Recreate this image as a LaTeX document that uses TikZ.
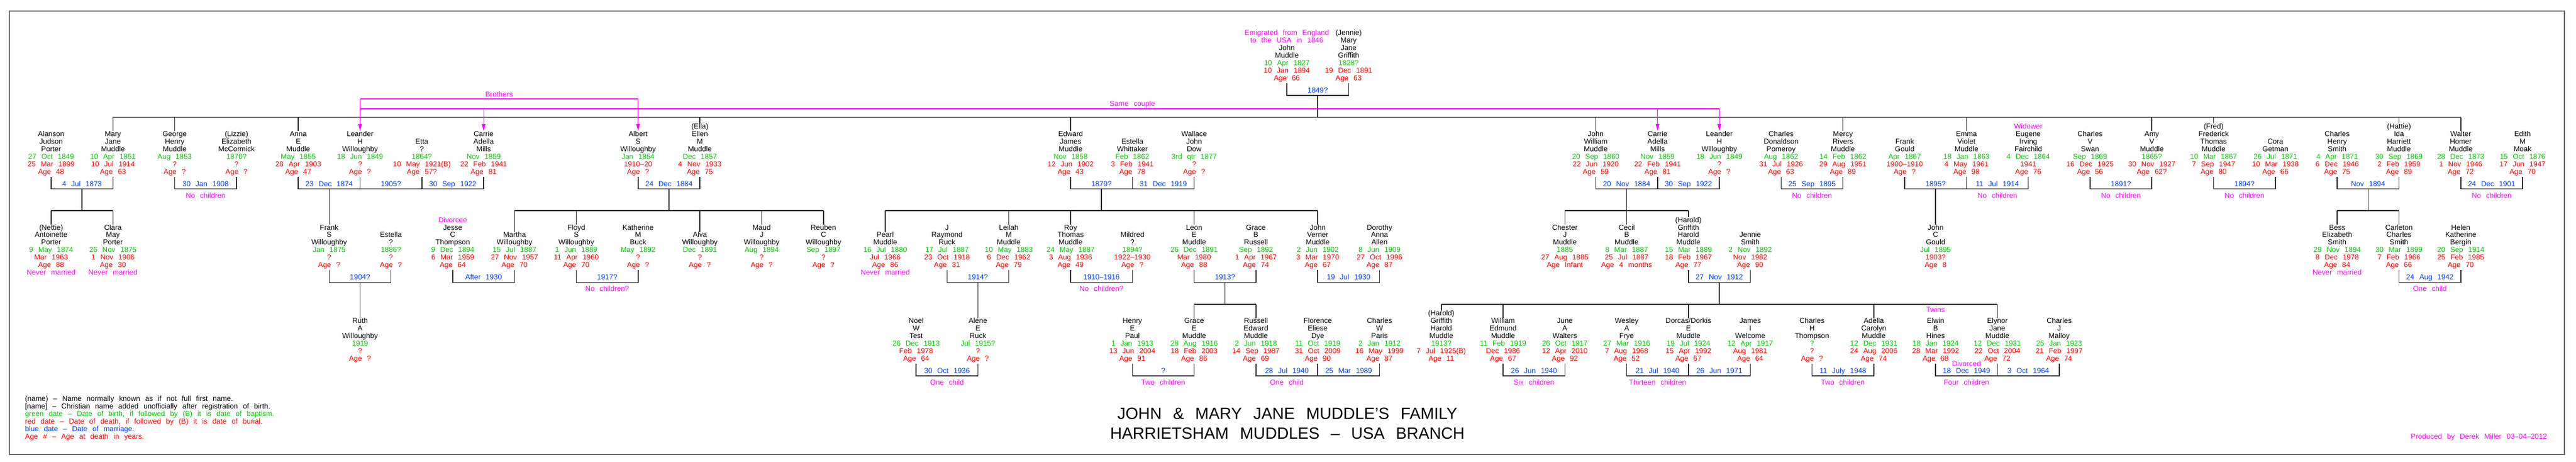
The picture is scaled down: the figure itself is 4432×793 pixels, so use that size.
\documentclass[tikz,border=0pt]{standalone}
\usepackage{fontspec}
\setmainfont[WordSpace=2.5]{Liberation Sans}
\usetikzlibrary{calc,arrows.meta}
\definecolor{cg}{RGB}{0,200,0}
\definecolor{cr}{RGB}{255,0,0}
\definecolor{cb}{RGB}{0,60,255}
\definecolor{cm}{RGB}{255,0,255}
\definecolor{cl}{RGB}{45,45,45}
\definecolor{cf}{RGB}{100,100,100}
\newcommand\gd[1]{\textcolor{cg}{#1}}
\newcommand\rd[1]{\textcolor{cr}{#1}}
\newcommand\mg[1]{\textcolor{cm}{#1}}
\newcommand\fsz{\fontsize{12.5}{12.95}\selectfont\lineskiplimit=-50pt\relax}
\tikzset{
  person/.style={align=center, inner sep=0pt, outer sep=0pt, anchor=north, font=\fsz},
  mlab/.style={text=cb, inner sep=0pt, outer sep=0pt, anchor=base, font=\fsz},
  notel/.style={text=cm, inner sep=0pt, outer sep=0pt, anchor=base, font=\fsz},
  link/.style={draw=cl, line width=1.5pt},
  magl/.style={draw=cm, line width=1.2pt},
  magar/.style={draw=cm, line width=1.2pt, -{Triangle[length=12pt,width=6pt]}},
}
% person: id, half-column, generation, lines above last name line, names, birth, death, age
\newcommand\pp[8]{%
  \pgfmathsetmacro\ppx{88+53.15*#2}%
  \pgfmathsetmacro\ppy{95+160.7*#3-12.95*#4-4.57}%
  \node[person] (#1) at (\ppx,\ppy) {\strut#5\\\gd{#6}\\\rd{#7}\\\rd{#8}};}
% same with a note line
\newcommand\ppn[9]{%
  \pgfmathsetmacro\ppx{88+53.15*#2}%
  \pgfmathsetmacro\ppy{95+160.7*#3-12.95*#4-4.57}%
  \node[person] (#1) at (\ppx,\ppy) {\strut#5\\\gd{#6}\\\rd{#7}\\\rd{#8}\\\mg{#9}};}
% marriage: label name, left, right, generation, text
\newcommand\mar[5]{%
  \pgfmathsetmacro\mya{95+160.7*#4+48}%
  \pgfmathsetmacro\myb{95+160.7*#4+69}%
  \pgfmathsetmacro\myl{95+160.7*#4+64.5}%
  \draw[link] (#2.north |- 0,\mya) -- (#2.north |- 0,\myb) -- (#3.north |- 0,\myb) -- (#3.north |- 0,\mya);
  \node[mlab] (#1) at ($(#2.north |- 0,\myl)!0.5!(#3.north |- 0,\myl)$) {#5};}
% children: generation, marriage label, first, last, tick list
\newcommand\kids[5]{%
  \pgfmathsetmacro\myb{95+160.7*#1+69}%
  \pgfmathsetmacro\myc{95+160.7*#1+106.5}%
  \draw[link] (#2 |- 0,\myb) -- (#2 |- 0,\myc);
  \draw[link] (#3.north |- 0,\myc) -- (#4.north |- 0,\myc);
  \foreach \kk in {#5} {\draw[link] (\kk.north |- 0,\myc) -- (\kk.north);}}
% single child: generation, child
\newcommand\onekid[2]{%
  \pgfmathsetmacro\myb{95+160.7*#1+69}%
  \draw[link] (#2.north |- 0,\myb) -- (#2.north);}
% note under a marriage: name, marriage label, generation, text
\newcommand\nt[4]{%
  \pgfmathsetmacro\myn{95+160.7*#3+84.5}%
  \node[notel] (#1) at (#2 |- 0,\myn) {#4};}
\begin{document}
\begin{tikzpicture}[x=1pt,y=-1pt]
\fill[white] (0,0) rectangle (4432,793);
\draw[cf, line width=2pt] (16,19) rectangle (4412,781);

% ---------------- generation 0
\pp{john}{40}{0}{3}{\mg{Emigrated from England}\\\mg{to the USA in 1846}\\John\\Muddle}{10 Apr 1827}{10 Jan 1894}{Age 66}
\pp{maryG}{42}{0}{3}{(Jennie)\\Mary\\Jane\\Griffith}{1828?}{19 Dec 1891}{Age 63}

% ---------------- generation 1
\pp{alanson}{0}{1}{2}{Alanson\\Judson\\Porter}{27 Oct 1849}{25 Mar 1899}{Age 48}
\pp{maryM}{2}{1}{2}{Mary\\Jane\\Muddle}{10 Apr 1851}{10 Jul 1914}{Age 63}
\pp{george}{4}{1}{2}{George\\Henry\\Muddle}{Aug 1853}{?}{Age ?}
\pp{lizzie}{6}{1}{2}{(Lizzie)\\Elizabeth\\McCormick}{1870?}{?}{Age ?}
\pp{anna}{8}{1}{2}{Anna\\E\\Muddle}{May 1855}{28 Apr 1903}{Age 47}
\pp{leanderL}{10}{1}{2}{Leander\\H\\Willoughby}{18 Jun 1849}{?}{Age ?}
\pp{etta}{12}{1}{1}{Etta\\?}{1864?}{10 May 1921(B)}{Age 57?}
\pp{carrieL}{14}{1}{2}{Carrie\\Adella\\Mills}{Nov 1859}{22 Feb 1941}{Age 81}
\pp{albert}{19}{1}{2}{Albert\\S\\Willoughby}{Jan 1854}{1910–20}{Age ?}
\pp{ella}{21}{1}{3}{(Ella)\\Ellen\\M\\Muddle}{Dec 1857}{4 Nov 1933}{Age 75}
\pp{edward}{33}{1}{2}{Edward\\James\\Muddle}{Nov 1858}{12 Jun 1902}{Age 43}
\pp{estellaW}{35}{1}{1}{Estella\\Whittaker}{Feb 1862}{3 Feb 1941}{Age 78}
\pp{wallace}{37}{1}{2}{Wallace\\John\\Dow}{3rd qtr 1877}{?}{Age ?}
\pp{johnW}{50}{1}{2}{John\\William\\Muddle}{20 Sep 1860}{22 Jun 1920}{Age 59}
\pp{carrieR}{52}{1}{2}{Carrie\\Adella\\Mills}{Nov 1859}{22 Feb 1941}{Age 81}
\pp{leanderR}{54}{1}{2}{Leander\\H\\Willoughby}{18 Jun 1849}{?}{Age ?}
\pp{pomeroy}{56}{1}{2}{Charles\\Donaldson\\Pomeroy}{Aug 1862}{31 Jul 1926}{Age 63}
\pp{mercy}{58}{1}{2}{Mercy\\Rivers\\Muddle}{14 Feb 1862}{29 Aug 1951}{Age 89}
\pp{frankG}{60}{1}{1}{Frank\\Gould}{Apr 1867}{1900–1910}{Age ?}
\pp{emma}{62}{1}{2}{Emma\\Violet\\Muddle}{18 Jan 1863}{4 May 1961}{Age 98}
\pp{eugene}{64}{1}{3}{\mg{Widower}\\Eugene\\Irving\\Fairchild}{4 Dec 1864}{1941}{Age 76}
\pp{swan}{66}{1}{2}{Charles\\V\\Swan}{Sep 1869}{16 Dec 1925}{Age 56}
\pp{amy}{68}{1}{2}{Amy\\V\\Muddle}{1865?}{30 Nov 1927}{Age 62?}
\pp{fred}{70}{1}{3}{(Fred)\\Frederick\\Thomas\\Muddle}{10 Mar 1867}{7 Sep 1947}{Age 80}
\pp{cora}{72}{1}{1}{Cora\\Getman}{26 Jul 1871}{10 Mar 1938}{Age 66}
\pp{charlesS}{74}{1}{2}{Charles\\Henry\\Smith}{4 Apr 1871}{6 Dec 1946}{Age 75}
\pp{hattie}{76}{1}{3}{(Hattie)\\Ida\\Harriett\\Muddle}{30 Sep 1869}{2 Feb 1959}{Age 89}
\pp{walter}{78}{1}{2}{Walter\\Homer\\Muddle}{28 Dec 1873}{1 Nov 1946}{Age 72}
\pp{edith}{80}{1}{2}{Edith\\M\\Moak}{15 Oct 1876}{17 Jun 1947}{Age 70}

% ---------------- generation 2
\ppn{nettie}{0}{2}{2}{(Nettie)\\Antoinette\\Porter}{9 May 1874}{Mar 1963}{Age 88}{Never married}
\ppn{clara}{2}{2}{2}{Clara\\May\\Porter}{26 Nov 1875}{1 Nov 1906}{Age 30}{Never married}
\pp{frankS}{9}{2}{2}{Frank\\S\\Willoughby}{Jan 1875}{?}{Age ?}
\pp{estellaQ}{11}{2}{1}{Estella\\?}{1886?}{?}{Age ?}
\pp{jesse}{13}{2}{3}{\mg{Divorcee}\\Jesse\\C\\Thompson}{9 Dec 1894}{6 Mar 1959}{Age 64}
\pp{martha}{15}{2}{1}{Martha\\Willoughby}{15 Jul 1887}{27 Nov 1957}{Age 70}
\pp{floyd}{17}{2}{2}{Floyd\\S\\Willoughby}{1 Jun 1889}{11 Apr 1960}{Age 70}
\pp{katherine}{19}{2}{2}{Katherine\\M\\Buck}{May 1892}{?}{Age ?}
\pp{alva}{21}{2}{1}{Alva\\Willoughby}{Dec 1891}{?}{Age ?}
\pp{maud}{23}{2}{2}{Maud\\J\\Willoughby}{Aug 1894}{?}{Age ?}
\pp{reuben}{25}{2}{2}{Reuben\\C\\Willoughby}{Sep 1897}{?}{Age ?}
\ppn{pearl}{27}{2}{1}{Pearl\\Muddle}{16 Jul 1880}{Jul 1966}{Age 86}{Never married}
\pp{raymond}{29}{2}{2}{J\\Raymond\\Ruck}{17 Jul 1887}{23 Oct 1918}{Age 31}
\pp{leilah}{31}{2}{2}{Leilah\\M\\Muddle}{10 May 1883}{6 Dec 1962}{Age 79}
\pp{roy}{33}{2}{2}{Roy\\Thomas\\Muddle}{24 May 1887}{3 Aug 1936}{Age 49}
\pp{mildred}{35}{2}{1}{Mildred\\?}{1894?}{1922–1930}{Age ?}
\pp{leon}{37}{2}{2}{Leon\\E\\Muddle}{26 Dec 1891}{Mar 1980}{Age 88}
\pp{graceB}{39}{2}{2}{Grace\\B\\Russell}{Sep 1892}{1 Apr 1967}{Age 74}
\pp{johnV}{41}{2}{2}{John\\Verner\\Muddle}{2 Jun 1902}{3 Mar 1970}{Age 67}
\pp{dorothy}{43}{2}{2}{Dorothy\\Anna\\Allen}{8 Jun 1909}{27 Oct 1996}{Age 87}
\pp{chester}{49}{2}{2}{Chester\\J\\Muddle}{1885}{27 Aug 1885}{Age Infant}
\pp{cecil}{51}{2}{2}{Cecil\\B\\Muddle}{8 Mar 1887}{25 Jul 1887}{Age 4 months}
\pp{haroldS}{53}{2}{3}{(Harold)\\Griffith\\Harold\\Muddle}{15 Mar 1889}{18 Feb 1967}{Age 77}
\pp{jennie}{55}{2}{1}{Jennie\\Smith}{2 Nov 1892}{Nov 1982}{Age 90}
\pp{johnC}{61}{2}{2}{John\\C\\Gould}{Jul 1895}{1903?}{Age 8}
\ppn{bess}{74}{2}{2}{Bess\\Elizabeth\\Smith}{29 Nov 1894}{8 Dec 1978}{Age 84}{Never married}
\pp{carleton}{76}{2}{2}{Carleton\\Charles\\Smith}{30 Mar 1899}{7 Feb 1966}{Age 66}
\pp{helen}{78}{2}{2}{Helen\\Katherine\\Bergin}{20 Sep 1914}{25 Feb 1985}{Age 70}

% ---------------- generation 3
\pp{ruth}{10}{3}{2}{Ruth\\A\\Willoughby}{1919}{?}{Age ?}
\pp{noel}{28}{3}{2}{Noel\\W\\Test}{26 Dec 1913}{Feb 1978}{Age 64}
\pp{alene}{30}{3}{2}{Alene\\E\\Ruck}{Jul 1915?}{?}{Age ?}
\pp{henry}{35}{3}{2}{Henry\\E\\Paul}{1 Jan 1913}{13 Jun 2004}{Age 91}
\pp{graceE}{37}{3}{2}{Grace\\E\\Muddle}{28 Aug 1916}{18 Feb 2003}{Age 86}
\pp{russell}{39}{3}{2}{Russell\\Edward\\Muddle}{2 Jun 1918}{14 Sep 1987}{Age 69}
\pp{florence}{41}{3}{2}{Florence\\Eliese\\Dye}{11 Oct 1919}{31 Oct 2009}{Age 90}
\pp{paris}{43}{3}{2}{Charles\\W\\Paris}{2 Jan 1912}{16 May 1999}{Age 87}
\pp{haroldJ}{45}{3}{3}{(Harold)\\Griffith\\Harold\\Muddle}{1913?}{7 Jul 1925(B)}{Age 11}
\pp{william}{47}{3}{2}{William\\Edmund\\Muddle}{11 Feb 1919}{Dec 1986}{Age 67}
\pp{june}{49}{3}{2}{June\\A\\Walters}{26 Oct 1917}{12 Apr 2010}{Age 92}
\pp{wesley}{51}{3}{2}{Wesley\\A\\Frye}{27 Mar 1916}{7 Aug 1968}{Age 52}
\pp{dorcas}{53}{3}{2}{Dorcas/Dorkis\\E\\Muddle}{19 Jul 1924}{15 Apr 1992}{Age 67}
\pp{james}{55}{3}{2}{James\\I\\Welcome}{12 Apr 1917}{Aug 1981}{Age 64}
\pp{thompson}{57}{3}{2}{Charles\\H\\Thompson}{?}{?}{Age ?}
\pp{adella}{59}{3}{2}{Adella\\Carolyn\\Muddle}{12 Dec 1931}{24 Aug 2006}{Age 74}
\pp{elwin}{61}{3}{2}{Elwin\\B\\Hines}{18 Jan 1924}{28 Mar 1992}{Age 68}
\pp{elynor}{63}{3}{2}{Elynor\\Jane\\Muddle}{12 Dec 1931}{22 Oct 2004}{Age 72}
\pp{malloy}{65}{3}{2}{Charles\\J\\Malloy}{25 Jan 1923}{21 Feb 1997}{Age 74}

% ---------------- marriages
\mar{mJohn}{john}{maryG}{0}{1849?}
\mar{mAlanson}{alanson}{maryM}{1}{4 Jul 1873}
\mar{mGeorge}{george}{lizzie}{1}{30 Jan 1908}
\mar{mAnna}{anna}{leanderL}{1}{23 Dec 1874}
\mar{mEtta}{leanderL}{etta}{1}{1905?}
\mar{mCarrieL}{etta}{carrieL}{1}{30 Sep 1922}
\mar{mAlbert}{albert}{ella}{1}{24 Dec 1884}
\mar{mEdward}{edward}{estellaW}{1}{1879?}
\mar{mWallace}{estellaW}{wallace}{1}{31 Dec 1919}
\mar{mJohnW}{johnW}{carrieR}{1}{20 Nov 1884}
\mar{mCarrieR}{carrieR}{leanderR}{1}{30 Sep 1922}
\mar{mMercy}{pomeroy}{mercy}{1}{25 Sep 1895}
\mar{mEmma}{frankG}{emma}{1}{1895?}
\mar{mEugene}{emma}{eugene}{1}{11 Jul 1914}
\mar{mAmy}{swan}{amy}{1}{1891?}
\mar{mFred}{fred}{cora}{1}{1894?}
\mar{mHattie}{charlesS}{hattie}{1}{Nov 1894}
\mar{mWalter}{walter}{edith}{1}{24 Dec 1901}
\mar{mFrankS}{frankS}{estellaQ}{2}{1904?}
\mar{mJesse}{jesse}{martha}{2}{After 1930}
\mar{mFloyd}{floyd}{katherine}{2}{1917?}
\mar{mLeilah}{raymond}{leilah}{2}{1914?}
\mar{mRoy}{roy}{mildred}{2}{1910–1916}
\mar{mLeon}{leon}{graceB}{2}{1913?}
\mar{mJohnV}{johnV}{dorothy}{2}{19 Jul 1930}
\mar{mHarold}{haroldS}{jennie}{2}{27 Nov 1912}
\mar{mCarleton}{carleton}{helen}{2}{24 Aug 1942}
\mar{mNoel}{noel}{alene}{3}{30 Oct 1936}
\mar{mHenry}{henry}{graceE}{3}{?}
\mar{mRussell}{russell}{florence}{3}{28 Jul 1940}
\mar{mParis}{florence}{paris}{3}{25 Mar 1989}
\mar{mWilliam}{william}{june}{3}{26 Jun 1940}
\mar{mWesley}{wesley}{dorcas}{3}{21 Jul 1940}
\mar{mJames}{dorcas}{james}{3}{26 Jun 1971}
\mar{mAdella}{thompson}{adella}{3}{11 July 1948}
\mar{mElwin}{elwin}{elynor}{3}{18 Dec 1949}
\mar{mMalloy}{elynor}{malloy}{3}{3 Oct 1964}

% ---------------- notes
\nt{nGeorge}{mGeorge}{1}{No children}
\nt{nMercy}{mMercy}{1}{No children}
\nt{nEugene}{mEugene}{1}{No children}
\nt{nAmy}{mAmy}{1}{No children}
\nt{nFred}{mFred}{1}{No children}
\nt{nWalter}{mWalter}{1}{No children}
\nt{nFloyd}{mFloyd}{2}{No children?}
\nt{nRoy}{mRoy}{2}{No children?}
\nt{nCarleton}{mCarleton}{2}{One child}
\nt{nNoel}{mNoel}{3}{One child}
\nt{nHenry}{mHenry}{3}{Two children}
\nt{nRussell}{mRussell}{3}{One child}
\nt{nWilliam}{mWilliam}{3}{Six children}
\nt{nWesley}{mWesley}{3}{Thirteen children}
\nt{nAdella}{mAdella}{3}{Two children}
\nt{nElwin}{mElwin}{3}{Four children}
\node[notel] (divorced) at (mElwin |- 0,629.5) {Divorced};
\node[notel] (twins) at (elwin.north |- 0,536.5) {Twins};

% ---------------- descent lines
\kids{0}{mJohn}{maryM}{walter}{maryM,george,anna,ella,edward,johnW,mercy,emma,amy,fred,hattie,walter}
\kids{1}{mAlanson}{nettie}{clara}{nettie,clara}
\onekid{1}{frankS}
\kids{1}{mAlbert}{martha}{reuben}{martha,floyd,alva,maud,reuben}
\kids{1}{mEdward}{pearl}{johnV}{pearl,leilah,roy,leon,johnV}
\kids{1}{mJohnW}{chester}{haroldS}{chester,cecil,haroldS}
\onekid{1}{johnC}
\kids{1}{mHattie}{bess}{carleton}{bess,carleton}
\onekid{2}{ruth}
\onekid{2}{alene}
\kids{2}{mLeon}{graceE}{russell}{graceE,russell}
\kids{2}{mHarold}{haroldJ}{elynor}{haroldJ,william,dorcas,adella,elynor}

% ---------------- magenta cross references
\draw[magl] (leanderL.north |- 0,170) -- (albert.north |- 0,170);
\draw[magl] (leanderL.north |- 0,187) -- (leanderR.north |- 0,187);
\draw[magar] (leanderL.north |- 0,170) -- (leanderL.north);
\draw[magar] (albert.north |- 0,170) -- (albert.north);
\draw[magar] (carrieL.north |- 0,187) -- (carrieL.north);
\draw[magar] (carrieR.north |- 0,187) -- (carrieR.north);
\draw[magar] (leanderR.north |- 0,187) -- (leanderR.north);
\node[notel] (brothers) at ($(leanderL.north |- 0,166.5)!0.5!(albert.north |- 0,166.5)$) {Brothers};
\node[notel] (samecouple) at (estellaW.north |- 0,182.5) {Same couple};

% ---------------- title, legend, credit
\node[anchor=base, inner sep=0pt, font=\fontsize{28}{34}\selectfont] (title1) at (2215,720.3) {JOHN \& MARY JANE MUDDLE’S FAMILY};
\node[anchor=base, inner sep=0pt, font=\fontsize{28}{34}\selectfont] (title2) at (2215,754.3) {HARRIETSHAM MUDDLES – USA BRANCH};
\node[align=left, anchor=north west, inner sep=0pt, font=\fsz] (legend) at (43,680.4)
  {\strut(name) – Name normally known as if not full first name.\\
   {[}name{]} – Christian name added unofficially after registration of birth.\\
   \gd{green date – Date of birth, if followed by (B) it is date of baptism.}\\
   \rd{red date – Date of death, if followed by (B) it is date of burial.}\\
   \textcolor{cb}{blue date – Date of marriage.}\\
   \rd{Age \# – Age at death in years.}};
\node[notel] (produced) at (4265,754.5) {Produced by Derek Miller 03–04–2012};
\end{tikzpicture}
\end{document}
